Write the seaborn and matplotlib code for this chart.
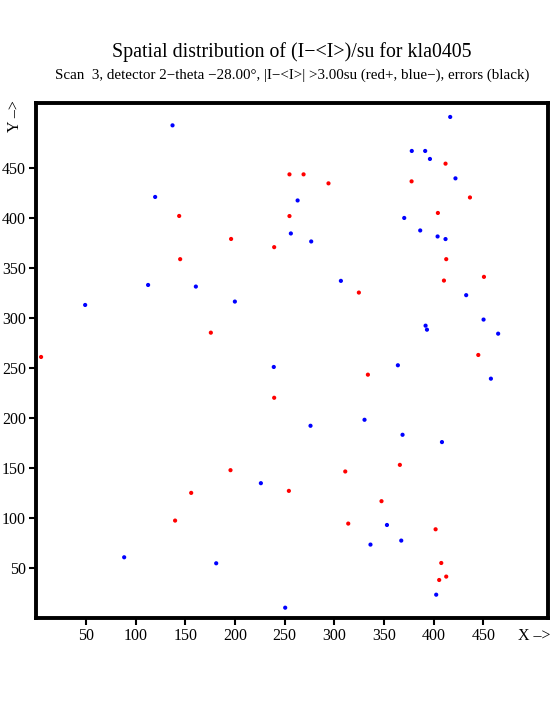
import matplotlib
matplotlib.use("Agg")
import matplotlib.pyplot as plt
import pandas as pd
import seaborn as sns

# Positive deviations (red) and negative deviations (blue)
red_x = [4.6, 143.7, 144.7, 175.6, 196, 239.4, 239.4, 195.4, 155.8, 139.6,
         412, 377.8, 254.8, 269, 294.1, 254.8, 436.6, 404.3, 412.7, 410.4,
         450.7, 324.7, 445, 333.8, 366, 311, 254.2, 347.5, 314, 402,
         407.7, 412.7, 405.6]
red_y = [261, 402, 358.8, 285.3, 379, 370.8, 220.2, 147.8, 125.1, 97.4,
         454.3, 436.6, 443.6, 443.6, 434.6, 401.9, 420.5, 405, 358.8, 337.4,
         341.1, 325.4, 263, 243.3, 153.1, 146.5, 127.1, 116.8, 94.4, 88.7,
         55, 41.4, 38]
blue_x = [49, 112.4, 137, 119.5, 160.5, 199.8, 239, 226, 88.3, 181,
          416.7, 378, 391.5, 396.3, 422, 263, 256.2, 276.7, 370.4, 386.5,
          404, 412, 306.6, 432.8, 450.3, 391.9, 393.3, 465, 364, 457.7,
          276, 330.4, 368.7, 408.4, 353, 336.4, 367.4, 402.6, 250.5]
blue_y = [313, 333, 492.6, 421, 331.4, 316.4, 251, 134.8, 60.7, 54.7,
          501, 467, 467, 459, 439.6, 417.5, 384.5, 376.5, 400, 387.5,
          381.5, 378.9, 337.1, 322.8, 298.4, 292.3, 288.3, 284.3, 252.7, 239.3,
          192.2, 198.2, 183.2, 175.9, 93, 73.4, 77.4, 23.3, 10.3]
ticks = [50, 100, 150, 200, 250, 300, 350, 400, 450]

df = pd.DataFrame({
    "x": red_x + blue_x,
    "y": red_y + blue_y,
    "sign": ["+"] * len(red_x) + ["-"] * len(blue_x),
})

sns.set_style("white")
plt.rcParams["font.family"] = ["Liberation Serif", "DejaVu Serif"]
plt.rcParams["text.color"] = "black"

fig = plt.figure(figsize=(5.55, 7.25), dpi=100)
ax = fig.add_axes([0.064, 0.1476, 0.923, 0.7104])

sns.scatterplot(data=df, x="x", y="y", hue="sign",
                palette={"+": "red", "-": "blue"},
                s=9, linewidth=0, legend=False, ax=ax)

ax.set_xlim(-1, 515)
ax.set_ylim(0, 515)
ax.set_xticks(ticks)
ax.set_yticks(ticks)
ax.tick_params(direction="out", length=5, width=1.5, labelsize=11.5,
               pad=2, bottom=True, left=True, colors="black")
for sp in ax.spines.values():
    sp.set_linewidth(2.8)
    sp.set_color("black")
ax.set_xlabel("")
ax.set_ylabel("")

fig.text(0.526, 0.928, "Spatial distribution of (I\u2212<I>)/su for kla0405",
         ha="center", va="center", fontsize=14.3, color="black")
fig.text(0.526, 0.896,
         "Scan  3, detector 2\u2212theta \u221228.00\u00b0, |I\u2212<I>| >3.00su (red+, blue\u2212), errors (black)",
         ha="center", va="center", fontsize=10.8, color="black")
fig.text(0.963, 0.123, "X \u2013>", ha="center", va="center", fontsize=11.5,
         color="black")
fig.text(0.027, 0.84, "Y \u2013>", ha="center", va="center", fontsize=11.5,
         rotation=90, color="black")

fig.savefig("out.png", dpi=100)
